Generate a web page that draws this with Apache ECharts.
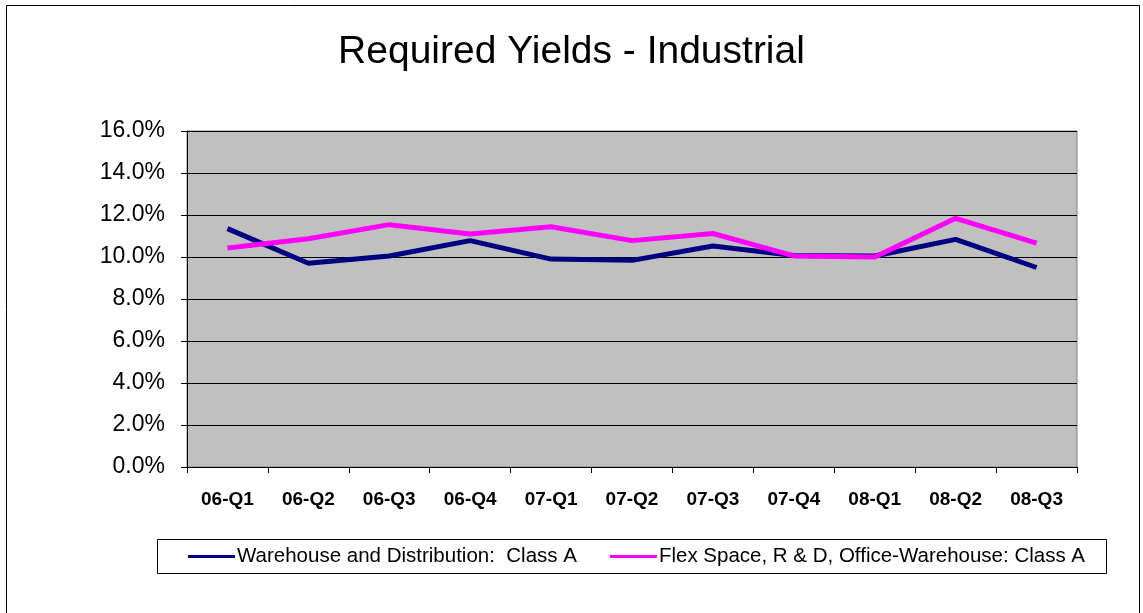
<!DOCTYPE html>
<html>
<head>
<meta charset="utf-8">
<title>Required Yields - Industrial</title>
<script src="https://cdn.jsdelivr.net/npm/echarts@6/dist/echarts.min.js"></script>
<style>
  html, body { margin: 0; padding: 0; background: #fff; }
  #main { width: 1143px; height: 613px; }
</style>
</head>
<body>
<div id="main"></div>
<script>
// quarters on the x axis
var quarters = ['06-Q1', '06-Q2', '06-Q3', '06-Q4', '07-Q1', '07-Q2', '07-Q3', '07-Q4', '08-Q1', '08-Q2', '08-Q3'];
// yields in percent
var warehouse = [11.35, 9.7, 10.05, 10.78, 9.9, 9.84, 10.52, 10.07, 10.05, 10.84, 9.5];
var flexSpace = [10.43, 10.87, 11.54, 11.1, 11.44, 10.78, 11.12, 10.05, 10.0, 11.84, 10.66];
var seriesNames = ['Warehouse and Distribution:  Class A', 'Flex Space, R & D, Office-Warehouse: Class A'];

var chart = echarts.init(document.getElementById('main'));

var option = {
  backgroundColor: '#fff',
  textStyle: { fontFamily: 'Liberation Sans, Arial, sans-serif' },
  title: {
    text: 'Required Yields - Industrial',
    left: 'center',
    top: 28,
    textStyle: { fontSize: 39, fontWeight: 'normal', color: '#000' }
  },
  graphic: [{
    // outer chart frame
    type: 'rect',
    shape: { x: 6.5, y: 5.5, width: 1133, height: 620 },
    style: { fill: 'none', stroke: '#000', lineWidth: 1 },
    silent: true,
    z: 100
  }, {
    // legend frame
    type: 'rect',
    shape: { x: 157.5, y: 539.5, width: 949, height: 34 },
    style: { fill: 'none', stroke: '#000', lineWidth: 1 },
    silent: true,
    z: 100
  }],
  legend: {
    left: 188,
    top: 546,
    padding: 0,
    itemGap: 33,
    itemWidth: 47,
    itemHeight: 3,
    icon: 'rect',
    textStyle: { fontSize: 20.5, color: '#000', padding: [0, 0, 0, -3] },
    data: seriesNames
  },
  grid: {
    left: 187,
    right: 66,
    top: 131,
    bottom: 146,
    show: true,
    backgroundColor: '#c0c0c0',
    borderColor: '#808080',
    borderWidth: 1
  },
  xAxis: {
    type: 'category',
    data: quarters,
    boundaryGap: true,
    axisLine: { lineStyle: { color: '#000', width: 1 } },
    axisTick: { show: true, length: 6, lineStyle: { color: '#000' } },
    axisLabel: { fontSize: 19, fontWeight: 'bold', color: '#000', margin: 23 }
  },
  yAxis: {
    type: 'value',
    min: 0,
    max: 16,
    interval: 2,
    axisLine: { show: true, lineStyle: { color: '#000', width: 1 } },
    axisTick: { show: true, length: 6, lineStyle: { color: '#000' } },
    axisLabel: {
      fontSize: 23,
      color: '#000',
      margin: 22,
      formatter: function (v) { return v.toFixed(1) + '%'; }
    },
    splitLine: { show: true, lineStyle: { color: '#000', width: 1 } }
  },
  series: [{
    name: seriesNames[0],
    type: 'line',
    data: warehouse,
    symbol: 'none',
    color: '#000080',
    lineStyle: { color: '#000080', width: 5 }
  }, {
    name: seriesNames[1],
    type: 'line',
    data: flexSpace,
    symbol: 'none',
    color: '#ff00ff',
    lineStyle: { color: '#ff00ff', width: 5 }
  }]
};

chart.setOption(option);
</script>
</body>
</html>
